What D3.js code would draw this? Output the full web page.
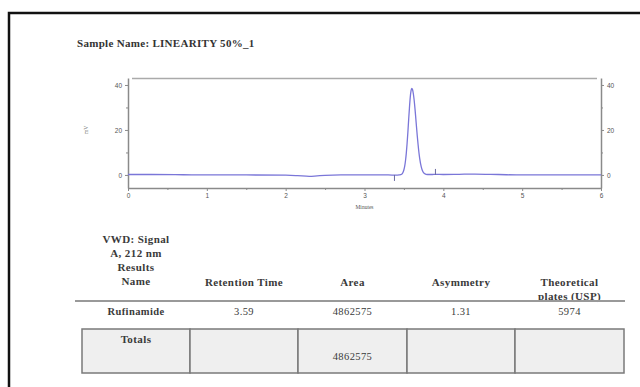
<!DOCTYPE html>
<html>
<head>
<meta charset="utf-8">
<script src="https://cdn.jsdelivr.net/npm/d3@7"></script>
<style>
  body { margin: 0; background: #fff; }
  svg { display: block; font-family: "Liberation Serif", "DejaVu Serif", serif; }
</style>
</head>
<body>
<svg id="page" width="640" height="387"></svg>
<script>
// chromatogram (minutes, mV)
const times = [0, 0.3, 0.7, 1.0, 1.5, 2.0, 2.15, 2.3, 2.4, 2.5, 2.7, 3.0, 3.3, 3.4, 3.44,
    3.46, 3.48, 3.50, 3.51, 3.52, 3.53, 3.54, 3.55, 3.56, 3.57, 3.58, 3.59, 3.60,
    3.61, 3.62, 3.63, 3.64, 3.65, 3.66, 3.67, 3.68, 3.69, 3.70, 3.72, 3.74, 3.76, 3.78,
    3.82, 3.86, 3.90, 4.0, 4.2, 4.4, 4.6, 4.8, 5.0, 5.5, 6.0];
const signal = [0.2, 0.2, 0.1, 0, 0, -0.1, -0.3, -0.6, -0.4, -0.2, 0, 0, 0, -0.1, 0,
    0.1, 0.6, 2.3, 3.9, 6.3, 9.6, 13.9, 18.9, 24.5, 29.8, 34.4, 37.4, 38.5,
    37.9, 36.0, 33.2, 29.6, 25.5, 21.2, 17.1, 13.4, 10.1, 7.4, 3.6, 1.5, 0.6, 0.3,
    0.2, 0.2, 0.3, 0.2, 0.3, 0.4, 0.3, 0.1, 0, 0, 0];

// integration start / end marks
const eventTimes = [3.38, 3.90];
const eventDir = [-1, 1];

const xTicks = [0, 1, 2, 3, 4, 5, 6];
const xMinor = [0.5, 1.5, 2.5, 3.5, 4.5, 5.5];
const yTicks = [0, 20, 40];
const yMinor = [10, 30];

// results table
const headerCols = [["VWD: Signal", "A, 212 nm", "Results", "Name"], ["Retention Time"], ["Area"], ["Asymmetry"], ["Theoretical", "plates (USP)"]];
const peakNames = ["Rufinamide"];
const retTimes = ["3.59"];
const areas = ["4862575"];
const asymmetry = ["1.31"];
const plates = ["5974"];
const totalsRow = ["Totals", "", "4862575", "", ""];

const svg = d3.select("#page");

// page border
svg.append("path")
    .attr("d", "M9,400V13H660")
    .attr("fill", "none")
    .attr("stroke", "#111")
    .attr("stroke-width", 2.5);

svg.append("text")
    .attr("x", 77).attr("y", 47)
    .attr("font-size", 11).attr("font-weight", "bold")
    .attr("fill", "#333").attr("letter-spacing", 0.3)
    .text("Sample Name: LINEARITY 50%_1");

// chart
const x = d3.scaleLinear().domain([0, 6]).range([128, 601]);
const y = d3.scaleLinear().domain([-5.8, 43.1]).range([188, 78]);
const axisColor = "#8a8a8a";

const g = svg.append("g");

g.append("line")
    .attr("x1", 132).attr("x2", 597)
    .attr("y1", 78.5).attr("y2", 78.5)
    .attr("stroke", "#aaa").attr("stroke-width", 1.5);

function styleAxis(sel) {
    sel.selectAll("path").attr("stroke", axisColor).attr("stroke-width", 1.5);
    sel.selectAll("line").attr("stroke", axisColor);
    sel.selectAll("text").attr("fill", "#555").attr("font-size", 6.5);
}

g.append("g")
    .attr("transform", `translate(0,${y.range()[0]})`)
    .call(d3.axisBottom(x).tickValues(xTicks).tickFormat(d3.format("d")).tickSize(3).tickSizeOuter(0).tickPadding(2))
    .call(styleAxis);
g.append("g")
    .attr("transform", `translate(0,${y.range()[0]})`)
    .call(d3.axisBottom(x).tickValues(xMinor).tickSize(2).tickFormat(""))
    .call(sel => sel.select("path").remove())
    .call(styleAxis);

g.append("g")
    .attr("transform", `translate(${x.range()[0]},0)`)
    .call(d3.axisLeft(y).tickValues(yTicks).tickFormat(d3.format("d")).tickSize(3).tickSizeOuter(0).tickPadding(3))
    .call(styleAxis);
g.append("g")
    .attr("transform", `translate(${x.range()[1]},0)`)
    .call(d3.axisRight(y).tickValues(yTicks).tickFormat(d3.format("d")).tickSize(3).tickSizeOuter(0).tickPadding(3))
    .call(styleAxis);
[x.range()[0], x.range()[1]].forEach((px, i) => {
    g.append("g")
        .attr("transform", `translate(${px},0)`)
        .call((i === 0 ? d3.axisLeft(y) : d3.axisRight(y)).tickValues(yMinor).tickSize(2).tickFormat(""))
        .call(sel => sel.select("path").remove())
        .call(styleAxis);
});

g.append("text")
    .attr("x", d3.mean(x.range())).attr("y", 209)
    .attr("text-anchor", "middle").attr("font-size", 5.5).attr("fill", "#555")
    .text("Minutes");
g.append("text")
    .attr("transform", `translate(88,${y(20)}) rotate(-90)`)
    .attr("text-anchor", "middle").attr("font-size", 5.5).attr("fill", "#555")
    .text("mV");

const line = d3.line()
    .x((d, i) => x(times[i]))
    .y(d => y(d))
    .curve(d3.curveMonotoneX);

g.append("path")
    .datum(signal)
    .attr("d", line)
    .attr("fill", "none")
    .attr("stroke", "#7a76d8")
    .attr("stroke-width", 1.3);

g.selectAll(".event")
    .data(eventTimes)
    .join("line")
    .attr("class", "event")
    .attr("x1", d => x(d)).attr("x2", d => x(d))
    .attr("y1", y(0))
    .attr("y2", (d, i) => y(0) - eventDir[i] * 6)
    .attr("stroke", "#6a6aa0").attr("stroke-width", 1);

// table
const colEdges = [82, 190, 298, 407, 515, 624];
const colMid = d3.pairs(colEdges).map(([a, b]) => (a + b) / 2);
const ink = "#3a3a3a";

headerCols.forEach((lines, c) => {
    const startY = c === 0 ? 243 : 286;
    lines.forEach((t, k) => {
        svg.append("text")
            .attr("x", colMid[c]).attr("y", startY + k * 14)
            .attr("text-anchor", "middle").attr("font-size", 11)
            .attr("font-weight", "bold").attr("fill", ink).attr("letter-spacing", 0.4)
            .text(t);
    });
});

svg.append("line")
    .attr("x1", 75).attr("x2", 625)
    .attr("y1", 301).attr("y2", 301)
    .attr("stroke", "#999").attr("stroke-width", 2);

const rows = peakNames.map((n, i) => [n, retTimes[i], areas[i], asymmetry[i], plates[i]]);
rows.forEach((r, i) => {
    r.forEach((t, c) => {
        svg.append("text")
            .attr("x", colMid[c]).attr("y", 315 + i * 16)
            .attr("text-anchor", "middle").attr("font-size", 10.5)
            .attr("font-weight", c === 0 ? "bold" : "normal")
            .attr("fill", ink).attr("letter-spacing", 0.4)
            .text(t);
    });
});

svg.selectAll(".tot")
    .data(d3.pairs(colEdges))
    .join("rect")
    .attr("class", "tot")
    .attr("x", d => d[0]).attr("y", 329)
    .attr("width", d => d[1] - d[0]).attr("height", 44)
    .attr("fill", "#efefef")
    .attr("stroke", "#7a7a7a").attr("stroke-width", 1.5);

totalsRow.forEach((t, c) => {
    svg.append("text")
        .attr("x", colMid[c]).attr("y", c === 0 ? 343 : 360)
        .attr("text-anchor", "middle").attr("font-size", c === 0 ? 11 : 10.5)
        .attr("font-weight", c === 0 ? "bold" : "normal")
        .attr("fill", ink).attr("letter-spacing", 0.4)
        .text(t);
});
</script>
</body>
</html>
